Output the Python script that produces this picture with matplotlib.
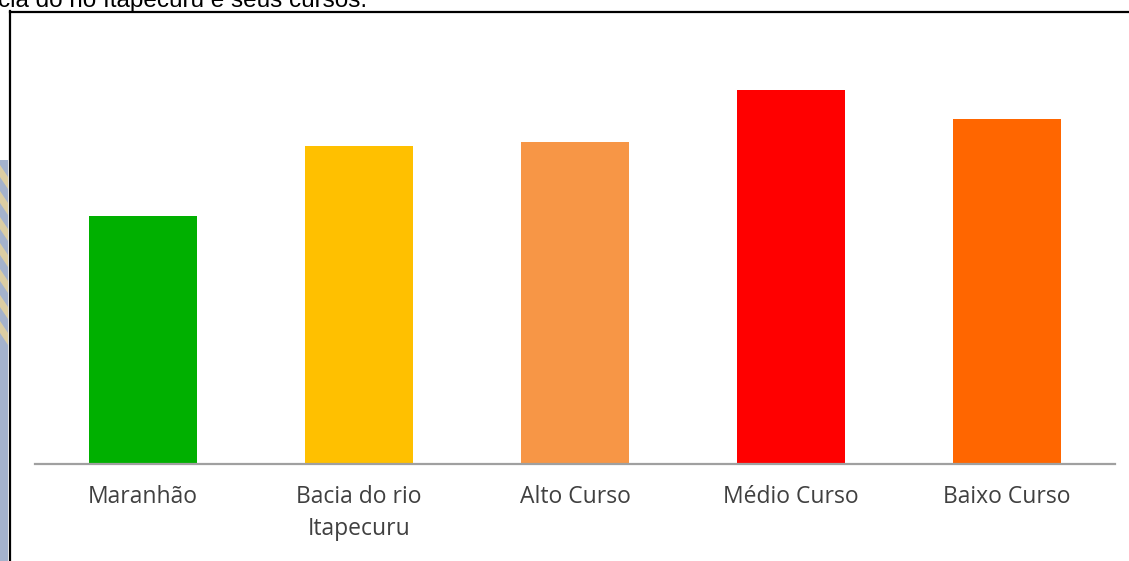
import matplotlib.pyplot as plt
from matplotlib.lines import Line2D
from matplotlib.patches import Rectangle, Polygon

# data (relative bar heights, no y scale shown)
categories = ['Maranhão', 'Bacia do rio\nItapecuru', 'Alto Curso', 'Médio Curso', 'Baixo Curso']
values = [248, 318, 322, 374, 345]
colors = ['#00b000', '#ffc000', '#f79646', '#ff0000', '#ff6600']

W, H = 1129, 561
fig = plt.figure(figsize=(W / 100, H / 100), dpi=100)

# strip of the page background at the left edge
fig.add_artist(Rectangle((0, 0), 8 / W, 1 - 160 / H, transform=fig.transFigure,
                         facecolor='#a4b2cc', edgecolor='none'))
for y0 in range(165, 330, 26):
    fig.add_artist(Polygon([(0, 1 - y0 / H), (8 / W, 1 - (y0 + 12) / H),
                            (8 / W, 1 - (y0 + 24) / H), (0, 1 - (y0 + 12) / H)],
                           closed=True, transform=fig.transFigure,
                           facecolor='#e6d39c', edgecolor='none', alpha=0.85))

# caption cut off by the top of the screenshot
fig.text(-2 / W, 1 - 7 / H, 'cia do rio Itapecuru e seus cursos.',
         fontsize=17.5, family='Liberation Sans', color='black', va='baseline')

# chart frame (left and top borders visible)
fig.add_artist(Line2D([9.5 / W, 9.5 / W], [0, 1 - 11 / H], transform=fig.transFigure,
                      color='black', lw=1.6))
fig.add_artist(Line2D([9.5 / W, 1], [1 - 11.5 / H, 1 - 11.5 / H], transform=fig.transFigure,
                      color='black', lw=1.6))

ax = fig.add_axes([35 / W, (H - 464) / H, 1080 / W, 424 / H])
ax.bar(range(len(values)), values, width=0.5, color=colors)
ax.set_xlim(-0.5, len(values) - 0.5)
ax.set_ylim(0, 424)

for side in ['top', 'right', 'left']:
    ax.spines[side].set_visible(False)
ax.spines['bottom'].set_color('#a0a0a0')
ax.spines['bottom'].set_linewidth(1.6)
ax.set_yticks([])
ax.set_xticks(range(len(categories)))
ax.set_xticklabels(categories, fontsize=16.5, family='Open Sans', color='#404040',
                   linespacing=1.45)
ax.tick_params(axis='x', length=0, pad=15)

fig.savefig('out.png', dpi=100)
